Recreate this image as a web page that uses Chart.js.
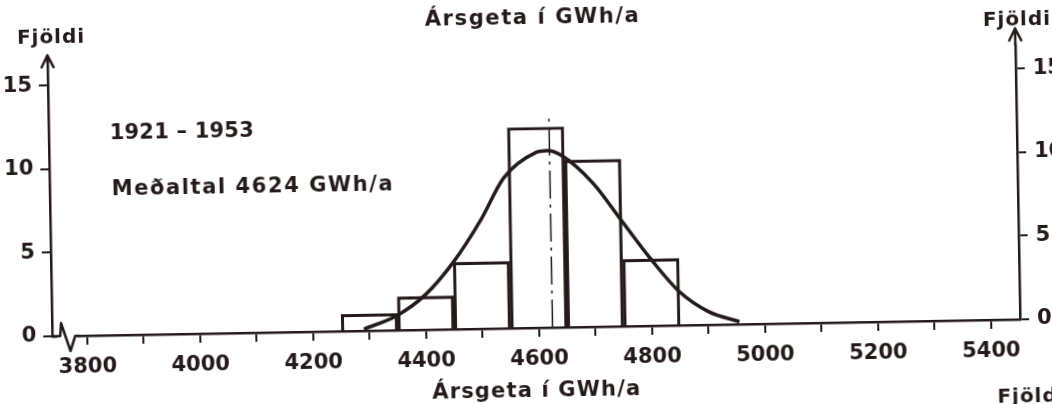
<!DOCTYPE html>
<html lang="is">
<head>
<meta charset="utf-8">
<title>Ársgeta í GWh/a</title>
<script src="https://cdn.jsdelivr.net/npm/chart.js@4.4.1/dist/chart.umd.min.js"></script>
<style>
  html, body { margin: 0; padding: 0; background: #fff; overflow: hidden; width: 1052px; height: 404px; }
  #wrap { width: 1072px; height: 430px; transform: rotate(-1deg); transform-origin: 526px 202px; }
</style>
</head>
<body>
<div id="wrap"><canvas id="chart" width="1072" height="430"></canvas></div>
<script>
// Data

const binCenters = [4300, 4400, 4500, 4600, 4700, 4800];
const yearCounts = [1, 2, 4, 12, 10, 4];

const curveX = [4290, 4350, 4400, 4450, 4500, 4542, 4600, 4620, 4645, 4700, 4750, 4800, 4850, 4900, 4955];
const curveY = [0.1, 0.9, 2.1, 4.0, 6.5, 9.0, 10.5, 10.6, 10.3, 8.6, 6.3, 4.0, 2.0, 0.8, 0.15];

const meanValue = 4624;
const meanLineTop = 12.8;

const xTickLabels = [3800, 4000, 4200, 4400, 4600, 4800, 5000, 5200, 5400];
const yTickLabels = [0, 5, 10, 15];

const periodLabel = "1921 – 1953";
const meanLabel = "Meðaltal 4624 GWh/a";
const xTitle = "Ársgeta í GWh/a";
const yTitle = "Fjöldi";

// Styles

const ink = "#241a1a";
const fontFamily = "DejaVu Sans";

const histogram = binCenters.map((x, i) => ({x: x, y: yearCounts[i]}));
const curve = curveX.map((x, i) => ({x: x, y: curveY[i]}));
const meanLine = [{x: meanValue, y: 0}, {x: meanValue, y: meanLineTop}];

// Functions

function fitText(ctx, text, x, y, width) {
    ctx.letterSpacing = "0px";
    let w = ctx.measureText(text).width,
        spacing = (width - w) / (text.length - 1);
    ctx.letterSpacing = spacing + "px";
    ctx.fillText(text, x, y);
    ctx.letterSpacing = "0px";
}

function drawArrow(ctx, x, fromY, tipY) {
    ctx.beginPath();
    ctx.moveTo(x, fromY);
    ctx.lineTo(x, tipY);
    ctx.moveTo(x - 6, tipY + 12);
    ctx.lineTo(x, tipY);
    ctx.lineTo(x + 6, tipY + 12);
    ctx.stroke();
}

const decorations = {
    id: "decorations",
    afterDraw(chart) {
        const ctx = chart.ctx,
            area = chart.chartArea,
            b = area.bottom,
            l = area.left;

        ctx.save();
        ctx.strokeStyle = ink;
        ctx.lineWidth = 2.5;
        ctx.lineCap = "round";
        ctx.lineJoin = "round";

        drawArrow(ctx, area.left, area.top, 47);
        drawArrow(ctx, area.right, area.top, 37);

        // axis break
        ctx.fillStyle = "#fff";
        ctx.fillRect(l + 5, b - 3, 20, 6);
        ctx.beginPath();
        ctx.moveTo(l, b);
        ctx.lineTo(l + 8, b);
        ctx.lineTo(l + 9, b - 13);
        ctx.lineTo(l + 18, b + 15);
        ctx.lineTo(l + 23, b);
        ctx.lineTo(l + 27, b);
        ctx.stroke();

        ctx.fillStyle = ink;
        ctx.textBaseline = "alphabetic";
        ctx.textAlign = "left";
        ctx.font = "bold 20px '" + fontFamily + "'";
        fitText(ctx, yTitle, 20, 35, 67);
        fitText(ctx, yTitle, 986, 34, 67);
        fitText(ctx, yTitle, 994, 411, 67);

        ctx.font = "bold 21px '" + fontFamily + "'";
        fitText(ctx, xTitle, 428, 24, 214);
        fitText(ctx, xTitle, 429, 397, 208);
        fitText(ctx, periodLabel, 111, 132, 144);
        fitText(ctx, meanLabel, 112, 188, 281);
        ctx.restore();
    }
};

function axisGrid() {
    return {offset: false, drawOnChartArea: false, drawTicks: true, tickLength: 9, color: ink, lineWidth: 2};
}

function tickFont() {
    return {family: fontFamily, size: 21, weight: "bold"};
}

const chart = new Chart(document.getElementById("chart"), {
    type: "bar",
    data: {
        datasets: [{
            type: "line",
            label: "Normaldreifing",
            data: curve,
            borderColor: ink,
            borderWidth: 3.5,
            pointRadius: 0,
            fill: false,
            cubicInterpolationMode: "monotone",
            order: 1,
        },
        {
            type: "line",
            label: "Meðaltal",
            data: meanLine,
            borderColor: ink,
            borderWidth: 1.5,
            borderDash: [28, 6, 3, 6],
            pointRadius: 0,
            fill: false,
            order: 2,
        },
        {
            type: "bar",
            label: "Fjöldi ára",
            data: histogram,
            backgroundColor: "rgba(0, 0, 0, 0)",
            borderColor: ink,
            borderWidth: 2.5,
            borderSkipped: "start",
            barPercentage: 1,
            categoryPercentage: 1,
            order: 3,
        }],
    },
    options: {
        responsive: false,
        animation: false,
        layout: {
            padding: {top: 54, left: 0, right: 0, bottom: 0},
        },
        plugins: {
            legend: {display: false},
            tooltip: {enabled: false},
        },
        scales: {
            x: {
                type: "linear",
                position: "bottom",
                min: 3738,
                max: 5452,
                offset: false,
                afterFit: scale => { scale.height = 102; },
                grid: axisGrid(),
                border: {display: true, color: ink, width: 2.5},
                ticks: {
                    stepSize: 100,
                    includeBounds: false,
                    autoSkip: false,
                    maxRotation: 0,
                    color: ink,
                    font: tickFont(),
                    padding: 10,
                    callback: v => xTickLabels.includes(v) ? String(v) : "",
                },
            },
            y: {
                type: "linear",
                position: "left",
                min: 0,
                max: 16.4,
                afterFit: scale => { scale.width = 50; },
                grid: axisGrid(),
                border: {display: true, color: ink, width: 2.5},
                ticks: {
                    stepSize: 5,
                    includeBounds: false,
                    color: ink,
                    font: tickFont(),
                    padding: 7,
                    callback: v => yTickLabels.includes(v) ? String(v) : "",
                },
            },
            yRight: {
                type: "linear",
                position: "right",
                min: 0,
                max: 16.4,
                afterFit: scale => { scale.width = 54; },
                grid: axisGrid(),
                border: {display: true, color: ink, width: 2.5},
                ticks: {
                    stepSize: 5,
                    includeBounds: false,
                    color: ink,
                    font: tickFont(),
                    padding: 8,
                    callback: v => yTickLabels.includes(v) ? String(v) : "",
                },
            },
        },
    },
    plugins: [decorations],
});
</script>
</body>
</html>
